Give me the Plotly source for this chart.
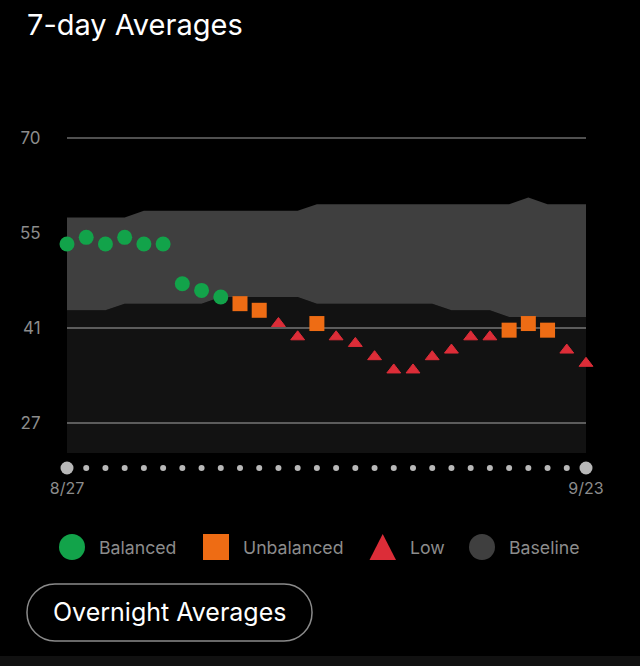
import pandas as pd
import plotly.graph_objects as go

days = [d.strftime("%-m/%-d") for d in pd.date_range("2023-08-27", "2023-09-23")]
averages = [54, 55, 54, 55, 54, 54, 48, 47, 46, 45, 44, 42, 40, 42,
            40, 39, 37, 35, 35, 37, 38, 40, 40, 41, 42, 41, 38, 36]
statuses = ["Balanced"] * 9 + ["Unbalanced"] * 2 + ["Low"] * 2 + ["Unbalanced"] \
    + ["Low"] * 9 + ["Unbalanced"] * 3 + ["Low"] * 2
baseline_high = [58, 58, 58, 58, 59, 59, 59, 59, 59, 59, 59, 59, 59, 60,
                 60, 60, 60, 60, 60, 60, 60, 60, 60, 60, 61, 60, 60, 60]
baseline_low = [44, 44, 44, 45, 45, 45, 45, 45, 46, 46, 46, 46, 46, 45,
                45, 45, 45, 45, 45, 45, 44, 44, 44, 43, 43, 43, 43, 43]
y_ticks = [70, 55.67, 41.33, 27]
y_labels = ["70", "55", "41", "27"]
x_labels = ["8/27", "9/23"]

GREEN = "#12a34a"
ORANGE = "#ee6c14"
RED = "#dc2d38"
BAND = "#3f3f3f"
FONT = "Inter"

# plot area in page pixels: TOP..SPLIT holds the chart, SPLIT..BOTTOM the day dots
LEFT, RIGHT, TOP, SPLIT, BOTTOM = 67, 586, 128, 453, 477
Y_MIN, Y_MAX = 22.47, 71.5


def px(x):
    return (x - LEFT) / (RIGHT - LEFT)


def py(y):
    return (BOTTOM - y) / (BOTTOM - TOP)


fig = go.Figure()

fig.add_trace(go.Scatter(
    x=days, y=baseline_low, mode="lines", line=dict(width=0),
    fill="tozeroy", fillcolor="rgba(255,255,255,0.07)", hoverinfo="skip"
))
fig.add_trace(go.Scatter(
    x=days, y=baseline_high, mode="lines", line=dict(width=0),
    fill="tonexty", fillcolor=BAND, hoverinfo="skip"
))

marker_styles = {
    "Balanced": ("circle", GREEN, 15, 0),
    "Unbalanced": ("square", ORANGE, 15, 0),
    "Low": ("triangle-up", RED, 12, 1),
}
for status, (symbol, color, size, edge) in marker_styles.items():
    picked = [i for i, s in enumerate(statuses) if s == status]
    fig.add_trace(go.Scatter(
        x=[days[i] for i in picked],
        y=[averages[i] for i in picked],
        mode="markers", name=status, cliponaxis=False,
        marker=dict(symbol=symbol, color=color, size=size, line=dict(width=edge, color=color))
    ))

# day dots under the plot, first and last are bigger
dot_sizes = [6] * len(days)
dot_sizes[0] = dot_sizes[-1] = 13
fig.add_trace(go.Scatter(
    x=days, y=[9] * len(days), yaxis="y2", mode="markers", cliponaxis=False,
    marker=dict(color="#b8b8b8", size=dot_sizes, opacity=1, line=dict(width=0)),
    hoverinfo="skip"
))

shapes = []
annotations = []


def legend_text(text, x):
    annotations.append(dict(
        text=text, x=px(x), y=py(547), xref="paper", yref="paper",
        xanchor="left", yanchor="middle", showarrow=False,
        font=dict(family=FONT, size=17.7, color="#8c8c8c")
    ))


def pill_path(x0, y0, x1, y1, r):
    c = r * 0.45
    pts = [
        f"M {px(x0 + r)} {py(y0)}", f"L {px(x1 - r)} {py(y0)}",
        f"C {px(x1 - c)} {py(y0)} {px(x1)} {py(y0 + c)} {px(x1)} {py(y0 + r)}",
        f"L {px(x1)} {py(y1 - r)}",
        f"C {px(x1)} {py(y1 - c)} {px(x1 - c)} {py(y1)} {px(x1 - r)} {py(y1)}",
        f"L {px(x0 + r)} {py(y1)}",
        f"C {px(x0 + c)} {py(y1)} {px(x0)} {py(y1 - c)} {px(x0)} {py(y1 - r)}",
        f"L {px(x0)} {py(y0 + r)}",
        f"C {px(x0)} {py(y0 + c)} {px(x0 + c)} {py(y0)} {px(x0 + r)} {py(y0)}",
        "Z",
    ]
    return " ".join(pts)


def page_shape(kind, x0, y0, x1, y1, color):
    shapes.append(dict(
        type=kind, xref="paper", yref="paper", layer="above",
        x0=px(x0), x1=px(x1), y0=py(y1), y1=py(y0),
        fillcolor=color, line=dict(width=0)
    ))


page_shape("circle", 59, 534, 85, 560, GREEN)
page_shape("rect", 203, 534, 229, 560, ORANGE)
shapes.append(dict(
    type="path", xref="paper", yref="paper", layer="above",
    path=f"M {px(369.5)} {py(560)} L {px(396)} {py(560)} L {px(382.7)} {py(534)} Z",
    fillcolor=RED, line=dict(width=0)
))
page_shape("circle", 469, 534, 495, 560, BAND)

legend_text("Balanced", 97)
legend_text("Unbalanced", 241)
legend_text("Low", 408)
legend_text("Baseline", 506.5)

# overnight button and the strip along the bottom edge
shapes.append(dict(
    type="path", xref="paper", yref="paper", layer="above",
    path=pill_path(27, 584, 312, 641, 28),
    fillcolor="rgba(0,0,0,0)", line=dict(color="#8a8a8a", width=1.5)
))
annotations.append(dict(
    text="Overnight Averages", x=px(169.5), y=py(612), xref="paper", yref="paper",
    xanchor="center", yanchor="middle", showarrow=False,
    font=dict(family=FONT, size=25, color="#ffffff")
))
page_shape("rect", 0, 656, 640, 666, "#111111")

fig.update_layout(
    width=640,
    height=666,
    margin=dict(l=LEFT, r=640 - RIGHT, t=TOP, b=666 - BOTTOM, pad=0),
    paper_bgcolor="#000000",
    plot_bgcolor="#000000",
    showlegend=False,
    title=dict(
        text="7-day Averages", x=27 / 640, xanchor="left", xref="container",
        y=1 - 25 / 666, yanchor="middle", yref="container",
        font=dict(family=FONT, size=29, color="#ffffff")
    ),
    xaxis=dict(
        type="category", categoryorder="array", categoryarray=days, range=[0, 27],
        anchor="y2",
        tickmode="array", tickvals=[days[0], days[-1]], ticktext=x_labels,
        ticks="", showgrid=False, zeroline=False, showline=False,
        tickfont=dict(family=FONT, size=16, color="#8c8c8c")
    ),
    yaxis=dict(
        domain=[(BOTTOM - SPLIT) / (BOTTOM - TOP), 1],
        range=[Y_MIN, Y_MAX],
        tickmode="array", tickvals=y_ticks, ticktext=y_labels,
        ticks="outside", ticklen=22, tickcolor="rgba(0,0,0,0)",
        showgrid=True, gridcolor="#505050", gridwidth=1.5,
        zeroline=False, showline=False,
        tickfont=dict(family=FONT, size=17, color="#8c8c8c")
    ),
    yaxis2=dict(
        domain=[0, (BOTTOM - SPLIT) / (BOTTOM - TOP)],
        range=[0, 24], visible=False
    ),
    shapes=shapes,
    annotations=annotations,
)

fig.write_html("out.html", post_script="document.body.style.margin='0';",
               config=dict(displayModeBar=False))
